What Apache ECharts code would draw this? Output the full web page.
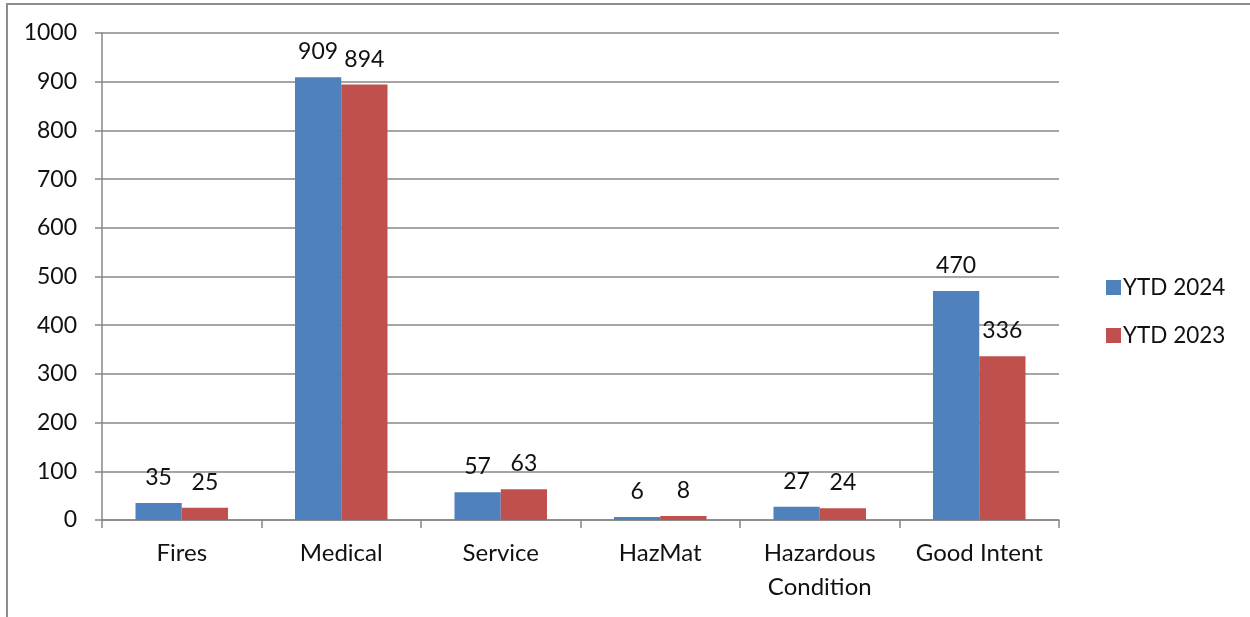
<!DOCTYPE html>
<html>
<head>
<meta charset="utf-8">
<script src="https://cdn.jsdelivr.net/npm/echarts@6/dist/echarts.min.js"></script>
<style>
  html, body { margin: 0; padding: 0; background: #fff; }
  #chart { width: 1250px; height: 617px; }
</style>
</head>
<body>
<div id="chart"></div>
<script>
const categories = ['Fires', 'Medical', 'Service', 'HazMat', 'Hazardous\nCondition', 'Good Intent'];
const ytd2024 = [35, 909, 57, 6, 27, 470];
const ytd2023 = [25, 894, 63, 8, 24, 336];
const yTicks = { min: 0, max: 1000, interval: 100 };

const chart = echarts.init(document.getElementById('chart'));
const font = 'Lato, "Open Sans", sans-serif';
const axisGray = '#878787';

const labelStyle = {
  show: true,
  position: 'top',
  distance: 14,
  color: '#111',
  fontFamily: font,
  fontSize: 23
};

const option = {
  backgroundColor: '#fff',
  animation: false,
  // outer chart frame
  graphic: [{
    type: 'rect',
    shape: { x: 7, y: 4, width: 1260, height: 640 },
    style: { fill: 'none', stroke: '#8c8c8c', lineWidth: 2 },
    silent: true
  }],
  grid: { left: 102, right: 191, top: 33, bottom: 97 },
  legend: {
    orient: 'vertical',
    left: 1101,
    top: 271,
    itemWidth: 15,
    itemHeight: 15,
    itemGap: 25,
    icon: 'rect',
    textStyle: { fontFamily: font, fontSize: 22.5, color: '#111', padding: [0, 0, 0, -3] },
    data: ['YTD 2024', 'YTD 2023']
  },
  xAxis: {
    type: 'category',
    data: categories,
    axisLine: { lineStyle: { color: axisGray, width: 1.5 } },
    axisTick: { show: true, alignWithLabel: false, length: 8, lineStyle: { color: axisGray, width: 1.5 } },
    axisLabel: {
      interval: 0,
      margin: 16,
      color: '#111',
      fontFamily: font,
      fontSize: 24,
      lineHeight: 34
    }
  },
  yAxis: {
    type: 'value',
    min: yTicks.min,
    max: yTicks.max,
    interval: yTicks.interval,
    axisLine: { show: true, lineStyle: { color: axisGray, width: 1.5 } },
    axisTick: { show: true, length: 7, lineStyle: { color: axisGray, width: 1.5 } },
    splitLine: { lineStyle: { color: axisGray, width: 1.5 } },
    axisLabel: {
      margin: 25,
      color: '#111',
      fontFamily: font,
      fontSize: 23,
      formatter: function (v) { return String(v); }
    }
  },
  series: [
    {
      name: 'YTD 2024',
      type: 'bar',
      data: ytd2024,
      barGap: '0%',
      barCategoryGap: '42%',
      itemStyle: { color: '#4F81BD' },
      label: labelStyle
    },
    {
      name: 'YTD 2023',
      type: 'bar',
      data: ytd2023,
      itemStyle: { color: '#C0504D' },
      label: labelStyle
    }
  ]
};

chart.setOption(option);
</script>
</body>
</html>
